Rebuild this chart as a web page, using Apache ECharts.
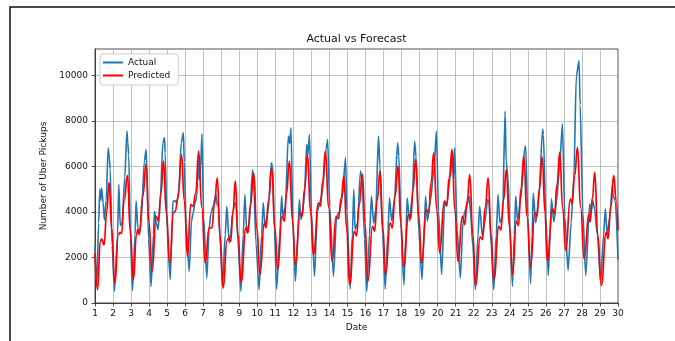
<!DOCTYPE html>
<html>
<head>
<meta charset="utf-8">
<script src="https://cdn.jsdelivr.net/npm/echarts@6/dist/echarts.min.js"></script>
<style>
  html, body { margin: 0; padding: 0; background: #fff; }
  #chart { width: 675px; height: 341px; }
</style>
</head>
<body>
<div id="chart"></div>
<script>
// x = day of month (fractional), y = pickups
const actualPts = [
  [1.00,2500],[1.10,750],[1.20,3500],[1.27,5000],[1.32,4500],[1.37,5050],[1.45,4400],[1.52,3650],[1.62,4500],[1.73,6800],[1.80,6300],[1.84,5900],[1.95,2500],
  [2.08,520],[2.25,3000],[2.32,5200],[2.40,3400],[2.50,3500],[2.65,5500],[2.77,7550],[2.82,7000],[2.87,6500],[2.97,2800],
  [3.08,550],[3.22,3000],[3.28,4470],[3.38,3300],[3.46,3080],[3.55,3500],[3.74,6230],[3.83,6740],[3.87,6000],[3.97,2800],
  [4.11,730],[4.24,3000],[4.30,4030],[4.40,3520],[4.50,3220],[4.62,4500],[4.76,7030],[4.85,7250],[4.89,6590],[5.00,3200],
  [5.17,1030],[5.26,3000],[5.32,4470],[5.40,4500],[5.54,4400],[5.65,5000],[5.78,7030],[5.90,7470],[5.95,6200],
  [6.05,3500],[6.22,1390],[6.35,3600],[6.44,3950],[6.55,4400],[6.65,4700],[6.72,6300],[6.78,5420],[6.86,6000],[6.93,7440],[7.02,3800],
  [7.20,1100],[7.33,3300],[7.43,3950],[7.55,4250],[7.70,4760],[7.78,4300],[7.85,4250],[7.95,2500],
  [8.07,730],[8.22,3000],[8.31,4250],[8.44,2640],[8.52,3000],[8.65,4000],[8.75,4400],[8.82,4300],[8.92,2800],
  [9.09,510],[9.22,3000],[9.31,4760],[9.42,3080],[9.55,3500],[9.74,5860],[9.80,5200],[9.93,2600],
  [10.10,590],[10.24,3000],[10.33,4400],[10.43,3370],[10.60,4000],[10.78,6150],[10.85,6000],[10.95,3200],
  [11.07,615],[11.25,3000],[11.35,4690],[11.42,3800],[11.55,4200],[11.72,7330],[11.80,7000],[11.87,7690],[11.97,3500],
  [12.11,950],[12.25,3000],[12.33,4540],[12.43,3660],[12.60,4500],[12.74,6960],[12.80,6500],[12.89,7400],[13.00,4000],
  [13.17,1170],[13.33,4030],[13.44,4320],[13.60,4800],[13.81,6740],[13.90,7180],[14.02,4200],
  [14.22,1170],[14.40,3800],[14.55,4000],[14.70,4540],[14.89,6370],[14.97,4000],
  [15.15,615],[15.27,3000],[15.35,4980],[15.42,3220],[15.55,3500],[15.72,5790],[15.80,5500],[15.95,2800],
  [16.07,510],[16.22,3000],[16.33,4690],[16.45,3500],[16.57,4100],[16.72,7330],[16.80,6000],[16.95,3000],
  [17.09,615],[17.24,3000],[17.33,4610],[17.45,3600],[17.60,4500],[17.78,7030],[17.85,6450],[17.97,3200],
  [18.13,800],[18.24,3000],[18.31,4610],[18.44,3590],[18.60,4700],[18.72,7100],[18.80,6450],[18.95,3200],
  [19.13,1030],[19.25,3000],[19.33,4690],[19.43,3590],[19.60,4500],[19.80,5900],[19.93,7540],[20.05,4000],
  [20.22,1250],[20.39,4470],[20.50,4300],[20.70,5500],[20.83,6590],[20.88,5420],[20.94,6810],[21.08,3200],
  [21.26,1100],[21.40,3500],[21.50,4030],[21.68,4400],[21.75,4700],[21.82,4000],[21.95,2500],
  [22.09,590],[22.24,3000],[22.33,4250],[22.48,2930],[22.60,3500],[22.78,4540],[22.85,4400],[22.97,2500],
  [23.11,590],[23.25,3000],[23.35,4760],[23.45,3520],[23.60,3800],[23.74,8420],[23.80,6230],[23.90,5500],[24.02,3000],
  [24.15,730],[24.25,3000],[24.33,4690],[24.43,3590],[24.60,4500],[24.83,6810],[24.88,6890],[25.00,3800],
  [25.15,850],[25.24,3000],[25.30,4830],[25.44,3520],[25.60,4500],[25.82,7640],[25.86,7400],[26.00,3800],
  [26.13,1210],[26.24,3000],[26.31,4570],[26.44,3550],[26.60,4500],[26.77,6180],[26.92,7850],[27.05,3800],
  [27.23,1430],[27.40,3500],[27.55,5500],[27.69,9970],[27.84,10630],[27.90,8700],[28.05,4000],
  [28.21,1210],[28.43,4350],[28.50,3910],[28.60,4500],[28.70,4130],[28.85,3000],
  [29.04,920],[29.20,3000],[29.30,4130],[29.40,3000],[29.55,3800],[29.68,5150],[29.72,4720],[29.85,4500],[30.00,1900]
];

const predictedPts = [
  [1.00,2200],[1.14,580],[1.30,2750],[1.37,2800],[1.50,2550],[1.65,4000],[1.78,5300],[1.92,3300],
  [2.10,880],[2.30,3000],[2.38,3100],[2.47,3050],[2.62,4500],[2.80,5600],[2.95,3200],
  [3.13,1030],[3.30,3000],[3.37,3220],[3.46,3000],[3.65,4700],[3.84,6100],[3.98,3600],
  [4.17,1390],[4.39,3800],[4.52,3590],[4.65,4800],[4.80,6230],[4.95,4000],
  [5.15,1760],[5.35,3950],[5.45,4030],[5.60,4600],[5.80,6500],[5.95,4500],
  [6.13,2050],[6.31,4320],[6.44,4250],[6.58,4800],[6.75,6670],[6.92,4200],
  [7.11,1760],[7.33,3300],[7.48,3300],[7.62,4300],[7.78,5490],[7.93,3000],
  [8.11,650],[8.32,2750],[8.42,2850],[8.52,2700],[8.65,4000],[8.78,5350],[8.93,3000],
  [9.10,910],[9.37,3300],[9.48,3080],[9.62,4300],[9.80,5710],[9.97,3300],
  [10.15,1250],[10.39,3520],[10.48,3300],[10.62,4500],[10.80,5930],[10.97,3300],
  [11.13,1470],[11.37,3800],[11.50,3590],[11.62,4800],[11.78,6230],[11.95,3600],
  [12.11,1680],[12.37,3960],[12.48,3800],[12.62,5000],[12.78,6520],[12.95,4000],
  [13.11,2120],[13.40,4400],[13.50,4250],[13.62,5300],[13.78,6670],[13.95,4200],
  [14.15,1830],[14.37,3800],[14.50,3700],[14.65,4600],[14.80,5570],[14.95,3300],
  [15.11,800],[15.39,3150],[15.50,2950],[15.65,4300],[15.83,5650],[15.97,3500],
  [16.13,950],[16.39,3370],[16.50,3150],[16.65,4500],[16.80,5790],[16.96,3300],
  [17.11,1250],[17.37,3520],[17.48,3300],[17.64,4700],[17.80,6000],[17.96,3500],
  [18.11,1610],[18.39,3880],[18.50,3700],[18.64,5000],[18.78,6300],[18.95,3800],
  [19.11,1760],[19.37,4100],[19.50,3950],[19.64,5300],[19.78,6590],[19.95,4100],
  [20.11,2200],[20.37,4470],[20.50,4250],[20.64,5500],[20.80,6750],[20.95,4100],
  [21.13,1830],[21.37,3800],[21.50,3440],[21.64,4500],[21.78,5640],[21.95,3000],
  [22.11,760],[22.36,2900],[22.48,2780],[22.64,4200],[22.80,5490],[22.96,3000],
  [23.11,1030],[23.40,3370],[23.50,3200],[23.65,4500],[23.81,5860],[23.97,3400],
  [24.15,1250],[24.37,3590],[24.48,3400],[24.62,5000],[24.78,6450],[24.95,3800],
  [25.15,1610],[25.39,3960],[25.50,3800],[25.64,5000],[25.80,6400],[25.95,4000],
  [26.07,1870],[26.37,4130],[26.48,3910],[26.62,5200],[26.77,6610],[26.93,4200],
  [27.10,2310],[27.36,4570],[27.45,4350],[27.60,5600],[27.75,6830],[27.93,4200],
  [28.12,1940],[28.39,3910],[28.45,3550],[28.58,4600],[28.71,5740],[28.88,3000],
  [29.07,770],[29.35,3110],[29.45,2820],[29.60,4200],[29.76,5590],[29.90,4500],[30.00,3200]
];

const yTicks = [0, 2000, 4000, 6000, 8000, 10000];
const seriesNames = ['Actual', 'Predicted'];

const FONT = 'DejaVu Sans, sans-serif';
const chart = echarts.init(document.getElementById('chart'), null, { renderer: 'canvas' });

chart.setOption({
  animation: false,
  backgroundColor: '#fff',
  graphic: [
    {
      type: 'rect',
      shape: { x: 10, y: 7, width: 760, height: 400 },
      style: { fill: 'none', stroke: '#111', lineWidth: 1.5 },
      silent: true
    },
    {
      type: 'text',
      x: 356.5,
      y: 39,
      style: {
        text: 'Actual vs Forecast',
        font: '11px ' + FONT,
        fill: '#111',
        textAlign: 'center',
        textVerticalAlign: 'middle'
      }
    }
  ],
  legend: {
    data: seriesNames,
    orient: 'vertical',
    left: 100,
    top: 54,
    padding: [4, 8, 5, 3],
    itemGap: 4,
    itemWidth: 20,
    itemHeight: 2,
    icon: 'rect',
    backgroundColor: '#fff',
    borderColor: '#ccc',
    borderWidth: 1,
    borderRadius: 3,
    textStyle: { fontFamily: FONT, fontSize: 9, color: '#111' }
  },
  grid: { left: 95, right: 57, top: 49, bottom: 38, show: true, borderColor: '#222', borderWidth: 0.8 },
  xAxis: {
    type: 'value',
    min: 1,
    max: 30,
    interval: 1,
    name: 'Date',
    nameLocation: 'middle',
    nameGap: 19,
    nameTextStyle: { fontFamily: FONT, fontSize: 9, color: '#111' },
    axisLine: { lineStyle: { color: '#222', width: 0.8 } },
    axisTick: { show: true, inside: false, length: 3.5, lineStyle: { color: '#222', width: 0.8 } },
    axisLabel: { fontFamily: FONT, fontSize: 9, color: '#111', margin: 6 },
    splitLine: { show: true, lineStyle: { color: '#b0b0b0', width: 0.8 } }
  },
  yAxis: {
    type: 'value',
    min: 0,
    max: 11150,
    interval: 2000,
    name: 'Number of Uber Pickups',
    nameLocation: 'middle',
    nameGap: 34,
    nameTextStyle: { fontFamily: FONT, fontSize: 9, color: '#111' },
    axisLine: { show: true, lineStyle: { color: '#222', width: 0.8 } },
    axisTick: { show: true, length: 3.5, customValues: yTicks, lineStyle: { color: '#222', width: 0.8 } },
    axisLabel: {
      fontFamily: FONT, fontSize: 9, color: '#111', margin: 7,
      customValues: yTicks,
      formatter: v => (yTicks.indexOf(v) >= 0 ? String(v) : '')
    },
    splitLine: { show: true, lineStyle: { color: '#b0b0b0', width: 0.8 } }
  },
  series: [
    {
      name: 'Actual',
      type: 'line',
      data: actualPts,
      showSymbol: false,
      smooth: 0.25,
      smoothMonotone: 'x',
      lineStyle: { color: '#1f77b4', width: 1.6 },
      itemStyle: { color: '#1f77b4' },
      z: 2
    },
    {
      name: 'Predicted',
      type: 'line',
      data: predictedPts,
      showSymbol: false,
      smooth: 0.5,
      smoothMonotone: 'x',
      lineStyle: { color: '#ff0000', width: 1.7 },
      itemStyle: { color: '#ff0000' },
      z: 3
    }
  ]
});
</script>
</body>
</html>
